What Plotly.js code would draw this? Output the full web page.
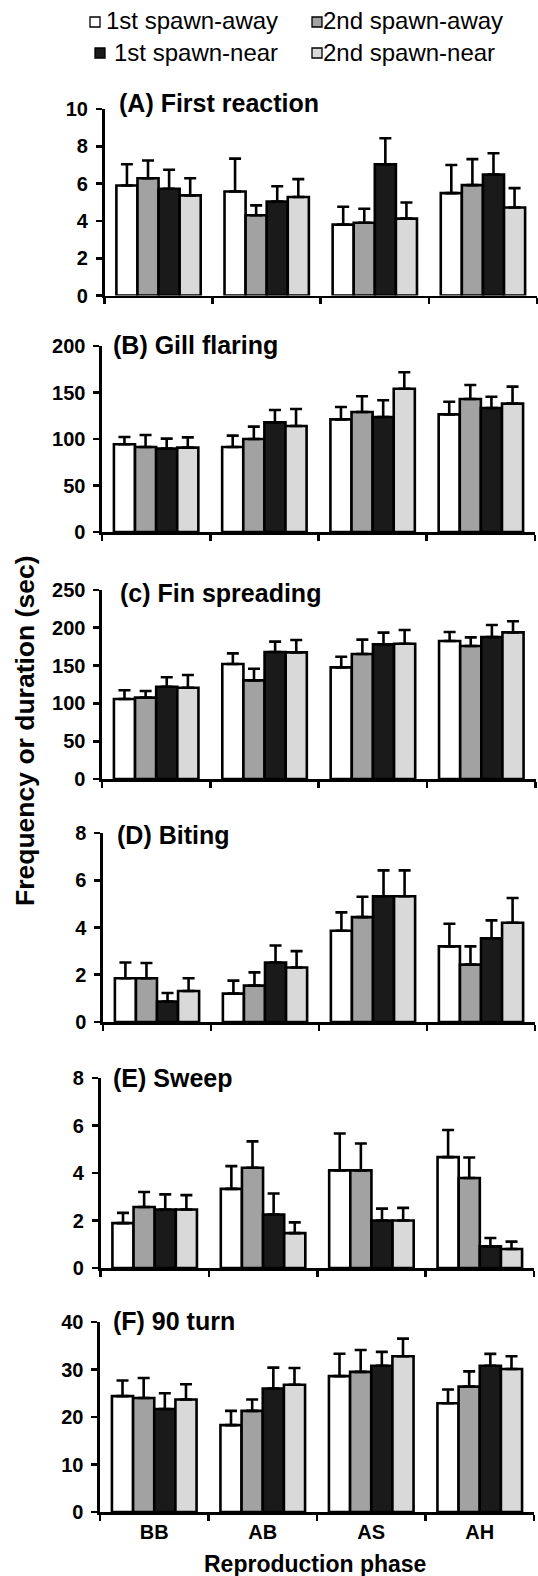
<!DOCTYPE html>
<html>
<head>
<meta charset="utf-8">
<script src="https://cdn.plot.ly/plotly-3.0.1.min.js"></script>
<style>html,body{margin:0;padding:0;background:#fff;}#chart{width:538px;height:1576px;}</style>
</head>
<body>
<div id="chart"></div>
<script>
// ---- data ----
const phases = ['BB', 'AB', 'AS', 'AH'];
const seriesNames = ['1st spawn-away', '2nd spawn-away', '1st spawn-near', '2nd spawn-near'];
const panelTitles = ['(A) First reaction', '(B) Gill flaring', '(c) Fin spreading', '(D) Biting', '(E) Sweep', '(F) 90 turn'];
const panelMax = [10, 200, 250, 8, 8, 40];
const panelDtick = [2, 50, 50, 2, 2, 10];

// rows: 1st spawn-away, 2nd spawn-away, 1st spawn-near, 2nd spawn-near; columns: BB, AB, AS, AH
const firstReactionMean = [[5.9, 5.58, 3.8, 5.49], [6.29, 4.3, 3.9, 5.92], [5.72, 5.04, 7.04, 6.49], [5.37, 5.28, 4.12, 4.72]];
const firstReactionSE   = [[1.14, 1.76, 0.96, 1.51], [0.95, 0.53, 0.75, 1.39], [1.02, 0.82, 1.39, 1.14], [0.92, 0.96, 0.87, 1.04]];

const gillFlaringMean = [[94.3, 91.4, 121.1, 126.5], [91.4, 100, 129, 143], [89.6, 117.9, 123.7, 133.3], [90.7, 114, 154.1, 138]];
const gillFlaringSE   = [[7.9, 12.2, 13.3, 13.6], [12.9, 13.3, 16.9, 15.1], [10.8, 13.3, 17.9, 12.2], [11.1, 18.3, 17.6, 18.3]];

const finSpreadingMean = [[105.8, 152.1, 147.7, 182.5], [107.6, 130.5, 165.3, 175.9], [122.1, 168, 178.1, 187.8], [120.8, 167.5, 179, 194]];
const finSpreadingSE   = [[11.5, 14.1, 14.1, 11.9], [8.8, 15.4, 19, 11.5], [12.4, 13.7, 15.5, 15.9], [16.8, 16.4, 18.1, 14.6]];

const bitingMean = [[1.85, 1.2, 3.86, 3.2], [1.85, 1.54, 4.44, 2.43], [0.87, 2.52, 5.32, 3.54], [1.31, 2.31, 5.32, 4.2]];
const bitingSE   = [[0.67, 0.55, 0.78, 0.96], [0.65, 0.56, 0.86, 0.77], [0.36, 0.72, 1.1, 0.76], [0.54, 0.69, 1.1, 1.05]];

const sweepMean = [[1.89, 3.33, 4.11, 4.67], [2.57, 4.22, 4.11, 3.79], [2.46, 2.25, 2.0, 0.91], [2.46, 1.47, 2.0, 0.8]];
const sweepSE   = [[0.43, 0.96, 1.55, 1.14], [0.63, 1.11, 1.13, 0.86], [0.64, 0.89, 0.5, 0.35], [0.61, 0.45, 0.53, 0.31]];

const turn90Mean = [[24.4, 18.3, 28.6, 22.9], [24.0, 21.3, 29.5, 26.4], [21.7, 26.0, 30.8, 30.8], [23.7, 26.8, 32.8, 30.1]];
const turn90SE   = [[3.3, 3.0, 4.7, 2.9], [4.2, 2.4, 4.6, 3.2], [3.3, 4.4, 2.9, 2.5], [3.2, 3.5, 3.7, 2.7]];

const panelMeans = [firstReactionMean, gillFlaringMean, finSpreadingMean, bitingMean, sweepMean, turn90Mean];
const panelSEs = [firstReactionSE, gillFlaringSE, finSpreadingSE, bitingSE, sweepSE, turn90SE];

// ---- style / layout ----
const W = 538, H = 1576;
const FONT = 'Liberation Sans, Arial, Helvetica, sans-serif';
const colors = ['#ffffff', '#a2a2a2', '#1a1a1a', '#d9d9d9'];
// pixel geometry of each panel: [top(px of max), bottom(px of 0), left, right, titleX, titleY]
const geom = [
  [109, 295.5, 104.5, 537, 119, 103],
  [346, 532, 102, 535, 113, 345],
  [590, 779, 102, 535.5, 120, 593],
  [833, 1022, 103, 535, 116.5, 835],
  [1078, 1268, 100.5, 534, 113, 1078],
  [1322, 1512, 100, 534, 113, 1321]
];
const px = v => v / W;
const py = v => 1 - v / H;

const traces = [];
const layout = {
  width: W, height: H, autosize: false,
  margin: {l: 0, r: 0, t: 0, b: 0},
  paper_bgcolor: '#fff', plot_bgcolor: 'rgba(0,0,0,0)',
  barmode: 'group', bargap: 0.22, bargroupgap: 0,
  showlegend: false,
  font: {family: FONT, color: '#000'},
  annotations: [], shapes: []
};

panelMeans.forEach((means, p) => {
  const n = p + 1;
  const xa = n === 1 ? 'x' : 'x' + n;
  const ya = n === 1 ? 'y' : 'y' + n;
  means.forEach((vals, s) => {
    traces.push({
      type: 'bar', x: phases, y: vals, name: seriesNames[s],
      xaxis: xa, yaxis: ya, showlegend: false, hoverinfo: 'skip',
      marker: {color: colors[s], line: {color: '#000', width: 2.6}},
      error_y: {type: 'data', symmetric: false, array: panelSEs[p][s],
                arrayminus: panelSEs[p][s].map(() => 0),
                color: '#000', thickness: 2.6, width: 6}
    });
  });
  const g = geom[p];
  layout[n === 1 ? 'xaxis' : 'xaxis' + n] = {
    domain: [px(g[2]), px(g[3])], anchor: ya, type: 'category',
    tickson: 'boundaries', ticks: 'outside', ticklen: 6, tickwidth: 2.6, tickcolor: '#000',
    showline: true, linewidth: 2.6, linecolor: '#000', showgrid: false, zeroline: false,
    showticklabels: p === 5, fixedrange: true,
    tickfont: {family: FONT, size: 20, weight: 'bold', color: '#000'}
  };
  layout[n === 1 ? 'yaxis' : 'yaxis' + n] = {
    domain: [py(g[1]), py(g[0])], anchor: xa, range: [0, panelMax[p]],
    tick0: 0, dtick: panelDtick[p], ticks: 'outside', ticklen: 6, tickwidth: 2.6, tickcolor: '#000',
    showline: true, linewidth: 2.6, linecolor: '#000', showgrid: false, zeroline: false,
    fixedrange: true, ticklabelstandoff: 4,
    tickfont: {family: FONT, size: 20, weight: 'bold', color: '#000'}
  };
  layout.annotations.push({
    xref: 'paper', yref: 'paper', x: px(g[4]), y: py(g[5]), xanchor: 'left', yanchor: 'middle',
    text: panelTitles[p], showarrow: false, borderpad: 0, borderwidth: 0,
    font: {family: FONT, size: 25, weight: 'bold', color: '#000'}
  });
});

// axis titles
layout.annotations.push({
  xref: 'paper', yref: 'paper', x: px(315), y: py(1564), xanchor: 'center', yanchor: 'middle',
  text: 'Reproduction phase', showarrow: false, borderpad: 0, borderwidth: 0,
  font: {family: FONT, size: 23, weight: 'bold', color: '#000'}
});
layout.annotations.push({
  xref: 'paper', yref: 'paper', x: px(25), y: py(731), xanchor: 'center', yanchor: 'middle',
  text: 'Frequency or duration (sec)', textangle: -90, showarrow: false, borderpad: 0, borderwidth: 0,
  font: {family: FONT, size: 26.5, weight: 'bold', color: '#000'}
});

// legend (boxes + labels)
const legendPos = [ // [boxCenterX, centerY, textX]
  [95, 21, 105.5],
  [317, 21, 323],
  [100, 52, 114],
  [317, 52, 323]
];
const BOX = 10;
seriesNames.forEach((name, s) => {
  const lp = legendPos[s];
  layout.shapes.push({
    type: 'rect', xref: 'paper', yref: 'paper',
    x0: px(lp[0] - BOX / 2), x1: px(lp[0] + BOX / 2), y0: py(lp[1] + 1 + BOX / 2), y1: py(lp[1] + 1 - BOX / 2),
    fillcolor: colors[s], line: {color: '#000', width: 1.3}
  });
  layout.annotations.push({
    xref: 'paper', yref: 'paper', x: px(lp[2]), y: py(lp[1]), xanchor: 'left', yanchor: 'middle',
    text: name, showarrow: false, borderpad: 0, borderwidth: 0,
    font: {family: FONT, size: 24, color: '#000'}
  });
});

Plotly.newPlot('chart', traces, layout, {displayModeBar: false, staticPlot: true});
</script>
</body>
</html>
